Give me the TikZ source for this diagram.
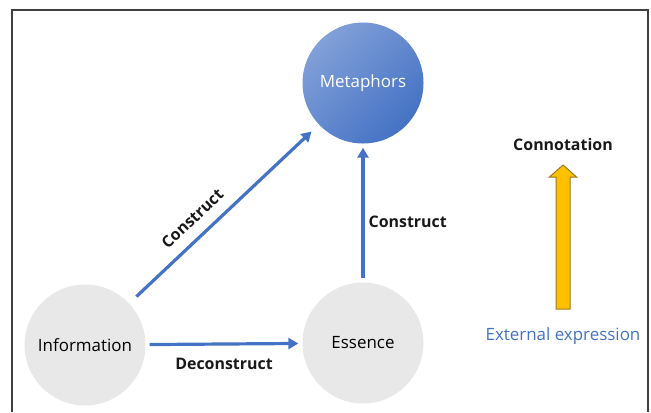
\documentclass[tikz,border=0pt]{standalone}
\usepackage{fontspec}
\setmainfont{Open Sans}
\usetikzlibrary{positioning,arrows.meta}
\definecolor{linkblue}{HTML}{4472C4}
\definecolor{metalight}{HTML}{82A0D8}
\definecolor{greyfill}{HTML}{E8E8E8}
\definecolor{gold}{HTML}{FFC000}
\definecolor{golddraw}{HTML}{9C7A1E}
\definecolor{framegrey}{HTML}{404040}
\tikzset{
concept/.style={circle, minimum size=121bp, inner sep=0pt, font=\fontsize{17}{20}\selectfont},
link/.style={draw=linkblue, line width=3.2bp, -{Triangle[length=10bp,width=11bp]}, shorten <=4bp, shorten >=4bp},
tag/.style={inner sep=0pt, font=\bfseries\fontsize{16}{19}\selectfont, text=black!90},
}
\begin{document}
\begin{tikzpicture}[x=1bp,y=-1bp]
\useasboundingbox (0,0) rectangle (651,412);
\draw[framegrey, line width=1.4bp] (12,412) |- (648,10) -- (648,412);
%
\node[concept, top color=metalight, bottom color=linkblue, shading angle=45, text=white] (meta) at (363,83) {Metaphors};
\node[concept, fill=greyfill] (info) at (85,345) {Information};
\node[concept, fill=greyfill] (ess) at (363,343) {Essence};
%
\draw[link, shorten <=10bp, shorten >=10bp] (info) -- node[tag, sloped, above=11bp, pos=.4] {Construct} (meta);
\draw[link] (ess) -- node[tag, right=4bp, pos=.44] {Construct} (meta);
\draw[link] (info) -- node[tag, below=13bp] {Deconstruct} (ess);
%
\coordinate (up) at (563,309);
\draw[fill=gold, draw=golddraw, line width=1bp] (up) ++(-7,0) -- ++(0,-132) -- ++(-6.5,0) -- ++(13.5,-12) -- ++(13.5,12) -- ++(-6.5,0) -- ++(0,132) -- cycle;
\node[tag] (conn) at (563,145) {Connotation};
\node[inner sep=0pt, font=\fontsize{17}{20}\selectfont, text=linkblue] (ext) at (563,336) {External expression};
\end{tikzpicture}
\end{document}
